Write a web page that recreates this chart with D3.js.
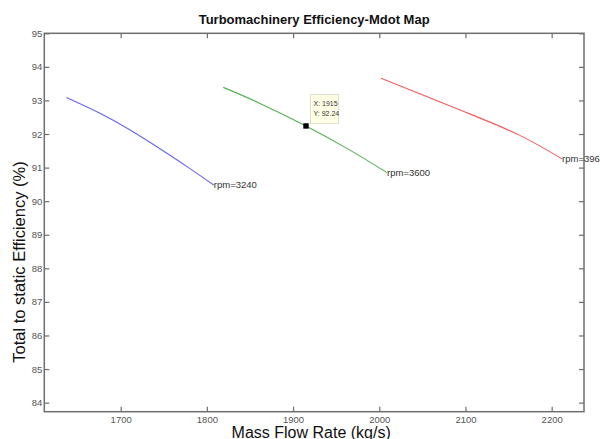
<!DOCTYPE html>
<html>
<head>
<meta charset="utf-8">
<script src="https://cdn.jsdelivr.net/npm/d3@7"></script>
<style>
  body { margin: 0; background: #fff; }
  svg { display: block; font-family: "Liberation Sans", Arial, sans-serif; }
</style>
</head>
<body>
<div id="chart"></div>
<script>
// Data
const rpmLabels = ["rpm=3240", "rpm=3600", "rpm=3968"];
const mdot3240 = [1637, 1676, 1711, 1742, 1777, 1808];
const eff3240 = [93.09, 92.62, 92.12, 91.62, 91.03, 90.48];
const mdot3600 = [1819, 1861, 1915, 1966, 2009];
const eff3600 = [93.39, 92.92, 92.24, 91.52, 90.85];
const mdot3968 = [2002, 2047, 2105, 2163, 2212];
const eff3968 = [93.66, 93.2, 92.6, 91.96, 91.26];
const xTicks = [1700, 1800, 1900, 2000, 2100, 2200];
const yTicks = [84, 85, 86, 87, 88, 89, 90, 91, 92, 93, 94, 95];
const datatip = { x: 1915, y: 92.24 };

function draw() {
  let dimensions = {
    width: 600,
    height: 439,
    left: 44.3,
    top: 33.3,
    right: 16,
    bottom: 27.3,
  };
  dimensions.ctrWidth = dimensions.width - dimensions.left - dimensions.right;
  dimensions.ctrHeight = dimensions.height - dimensions.top - dimensions.bottom;

  const svg = d3
    .select("#chart")
    .append("svg")
    .attr("width", dimensions.width)
    .attr("height", dimensions.height);

  const ctr = svg
    .append("g")
    .attr("transform", `translate(${dimensions.left}, ${dimensions.top})`);

  const xScale = d3.scaleLinear().domain([1611.4, 2237.5]).range([0, dimensions.ctrWidth]);
  const yScale = d3.scaleLinear().domain([83.73, 95]).range([dimensions.ctrHeight, 0]);

  const series = [
    { label: rpmLabels[0], xs: mdot3240, ys: eff3240, color: "#6464f4" },
    { label: rpmLabels[1], xs: mdot3600, ys: eff3600, color: "#55b055" },
    { label: rpmLabels[2], xs: mdot3968, ys: eff3968, color: "#f45a5a" },
  ];

  const axisColor = "#6e6e6e";
  const styleAxis = (g) => {
    g.select(".domain").remove();
    g.selectAll("line").attr("stroke", axisColor).attr("stroke-width", 1.2);
    g.selectAll("text")
      .attr("fill", "#555")
      .style("font-size", "9.5px");
  };

  // Axes (MATLAB style: inward ticks on all four sides)
  ctr.append("g")
    .attr("transform", `translate(0, ${dimensions.ctrHeight})`)
    .call(d3.axisBottom(xScale).tickValues(xTicks).tickFormat(d3.format("d"))
      .tickSizeInner(-5).tickSizeOuter(0).tickPadding(5))
    .call(styleAxis);
  ctr.append("g")
    .call(d3.axisTop(xScale).tickValues(xTicks).tickSizeInner(-5).tickSizeOuter(0).tickFormat(""))
    .call(styleAxis);
  ctr.append("g")
    .call(d3.axisLeft(yScale).tickValues(yTicks).tickSizeInner(-5).tickSizeOuter(0).tickPadding(2))
    .call(styleAxis);
  ctr.append("g")
    .attr("transform", `translate(${dimensions.ctrWidth}, 0)`)
    .call(d3.axisRight(yScale).tickValues(yTicks).tickSizeInner(-5).tickSizeOuter(0).tickFormat(""))
    .call(styleAxis);

  ctr.append("rect")
    .attr("width", dimensions.ctrWidth)
    .attr("height", dimensions.ctrHeight)
    .attr("fill", "none")
    .attr("stroke", axisColor)
    .attr("stroke-width", 1.5);

  // Lines
  const lineGenerator = d3
    .line()
    .x((d) => xScale(d[0]))
    .y((d) => yScale(d[1]))
    .curve(d3.curveNatural);

  series.forEach((s) => {
    const pts = s.xs.map((x, i) => [x, s.ys[i]]);
    ctr.append("path")
      .datum(pts)
      .attr("d", lineGenerator)
      .attr("fill", "none")
      .attr("stroke", s.color)
      .attr("stroke-width", 1.1);

    const last = pts[pts.length - 1];
    ctr.append("text")
      .attr("x", xScale(last[0]))
      .attr("y", yScale(last[1]))
      .attr("dy", "0.35em")
      .attr("fill", "#333")
      .style("font-size", "9.5px")
      .text(s.label);
  });

  // Data tip
  const tx = xScale(datatip.x);
  const ty = yScale(datatip.y);
  const tip = ctr.append("g").attr("transform", `translate(${tx}, ${ty})`);
  tip.append("rect")
    .attr("x", 4.5)
    .attr("y", -31.5)
    .attr("width", 28)
    .attr("height", 29)
    .attr("fill", "#ffffe6")
    .attr("stroke", "#e0e0cc");
  tip.append("text")
    .attr("x", 7.5)
    .attr("y", -20)
    .attr("fill", "#333")
    .style("font-size", "7px")
    .text(`X: ${datatip.x}`);
  tip.append("text")
    .attr("x", 7.5)
    .attr("y", -10)
    .attr("fill", "#333")
    .style("font-size", "7px")
    .text(`Y: ${datatip.y}`);
  tip.append("rect")
    .attr("x", -2.7)
    .attr("y", -2.7)
    .attr("width", 5.4)
    .attr("height", 5.4)
    .attr("fill", "#000");

  // Title and labels
  svg.append("text")
    .attr("x", dimensions.left + dimensions.ctrWidth / 2)
    .attr("y", 24)
    .attr("text-anchor", "middle")
    .attr("fill", "#111")
    .style("font-size", "13px")
    .style("font-weight", "bold")
    .text("Turbomachinery Efficiency-Mdot Map");

  svg.append("text")
    .attr("x", dimensions.left + dimensions.ctrWidth / 2 - 3)
    .attr("y", 438)
    .attr("text-anchor", "middle")
    .attr("fill", "#111")
    .style("font-size", "16px")
    .text("Mass Flow Rate (kg/s)");

  svg.append("text")
    .attr("transform", "translate(25, 262) rotate(-90)")
    .attr("text-anchor", "middle")
    .attr("fill", "#111")
    .style("font-size", "16.5px")
    .text("Total to static Efficiency (%)");
}

draw();
</script>
</body>
</html>
